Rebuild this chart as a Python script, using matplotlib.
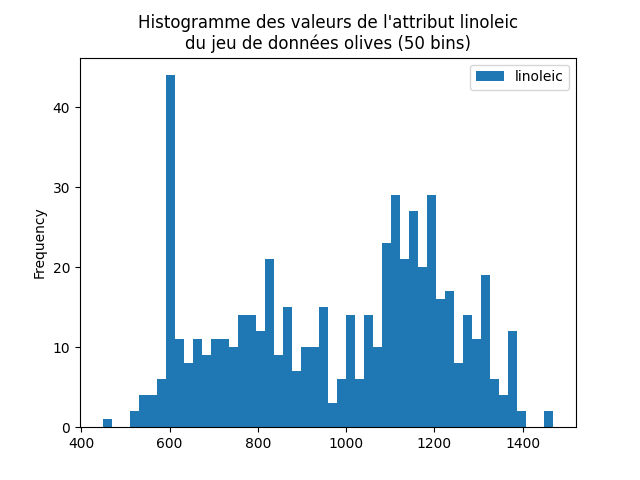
import numpy as np
import matplotlib
matplotlib.use("Agg")
import matplotlib.pyplot as plt

# linoleic range in the olives data set, split into 50 bins
LIN_MIN, LIN_MAX = 448, 1470
N_BINS = 50
counts = [
    1, 0, 0, 2, 4, 4, 6, 44, 11, 8,
    11, 9, 11, 11, 10, 14, 14, 12, 21, 9,
    15, 7, 10, 10, 15, 3, 6, 14, 6, 14,
    10, 23, 29, 21, 27, 20, 29, 16, 17, 8,
    14, 11, 19, 6, 4, 12, 2, 0, 0, 2,
]

edges = np.linspace(LIN_MIN, LIN_MAX, N_BINS + 1)
centers = (edges[:-1] + edges[1:]) / 2

fig, ax = plt.subplots(figsize=(6.4, 4.8), dpi=100)
ax.hist(centers, bins=edges, weights=counts, color="#1f77b4", label="linoleic")
ax.set_ylabel("Frequency")
ax.set_title("Histogramme des valeurs de l'attribut linoleic\ndu jeu de données olives (50 bins)")
ax.legend(loc="upper right")
fig.savefig("out.png", dpi=100)
